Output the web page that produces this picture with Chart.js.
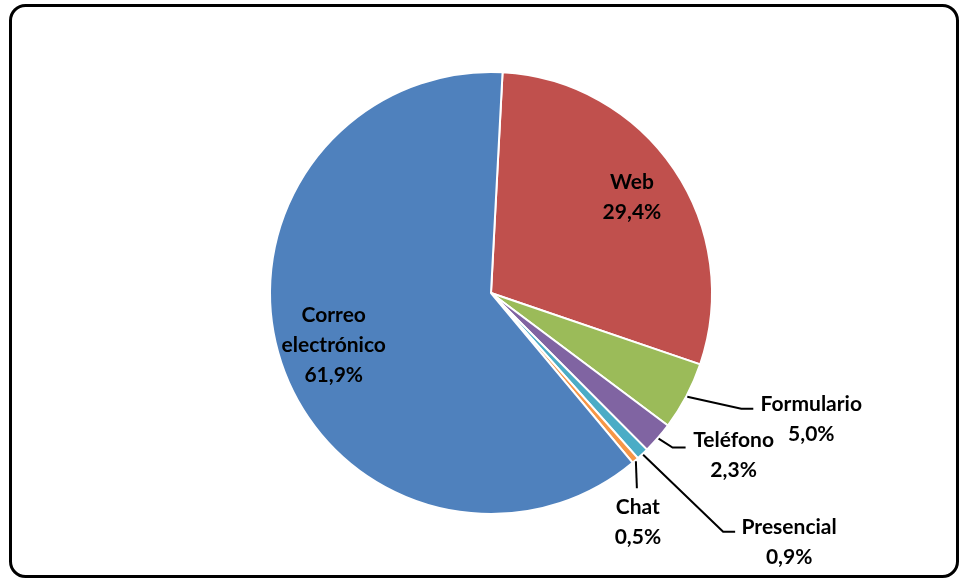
<!DOCTYPE html>
<html>
<head>
<meta charset="utf-8">
<script src="https://cdn.jsdelivr.net/npm/chart.js@4.4.1/dist/chart.umd.min.js"></script>
<style>
  html, body { margin: 0; padding: 0; background: #ffffff; }
  #wrap { width: 960px; height: 580px; position: relative; }
</style>
</head>
<body>
<div id="wrap"><canvas id="c" width="960" height="580"></canvas></div>
<script>
const categories = ["Web", "Formulario", "Teléfono", "Presencial", "Chat", "Correo electrónico"];
const labelLines = [["Web"], ["Formulario"], ["Teléfono"], ["Presencial"], ["Chat"], ["Correo", "electrónico"]];
const values = [29.4, 5.0, 2.3, 0.9, 0.5, 61.9];
const valueLabels = ["29,4%", "5,0%", "2,3%", "0,9%", "0,5%", "61,9%"];
const colors = ["#C0504D", "#9BBB59", "#8064A2", "#4BACC6", "#F79646", "#4F81BD"];

const FONT = "bold 21px Lato, 'Liberation Sans', sans-serif";
const LINE_H = 30;

// label placement: inside (fraction of radius) or outside (offsets from arc edge anchor)
const placement = [
  { inside: true, r: 0.77 },
  { elbow: [54, 12], end: [66, 12], text: [124, 8] },
  { elbow: [14, 9], end: [27, 9], text: [75, 2] },
  { elbow: [80, 77], end: [92, 77], text: [146, 73] },
  { elbow: [1, 27], end: [1, 27], text: [2, 46] },
  { inside: true, r: 0.75 }
];

const framePlugin = {
  id: 'frame',
  beforeDraw(chart) {
    const ctx = chart.ctx;
    ctx.save();
    ctx.fillStyle = '#ffffff';
    ctx.fillRect(0, 0, chart.width, chart.height);
    ctx.beginPath();
    ctx.roundRect(10.5, 5.5, 947, 571, 15);
    ctx.lineWidth = 3;
    ctx.strokeStyle = '#000000';
    ctx.stroke();
    ctx.restore();
  }
};

const labelPlugin = {
  id: 'pieLabels',
  afterDatasetsDraw(chart) {
    const ctx = chart.ctx;
    const meta = chart.getDatasetMeta(0);
    ctx.save();
    ctx.font = FONT;
    ctx.fillStyle = '#000000';
    ctx.textAlign = 'center';
    ctx.textBaseline = 'middle';
    meta.data.forEach((arc, i) => {
      const p = arc.getProps(['x', 'y', 'startAngle', 'endAngle', 'outerRadius'], true);
      const mid = (p.startAngle + p.endAngle) / 2;
      const lines = labelLines[i].concat([valueLabels[i]]);
      const pl = placement[i];
      if (pl.inside) {
        const rr = p.outerRadius * pl.r;
        const cx = p.x + Math.cos(mid) * rr;
        const cy = p.y + Math.sin(mid) * rr;
        const top = cy - (lines.length - 1) * LINE_H / 2;
        lines.forEach((t, k) => ctx.fillText(t, cx, top + k * LINE_H));
      } else {
        const ax = p.x + Math.cos(mid) * (p.outerRadius + 1);
        const ay = p.y + Math.sin(mid) * (p.outerRadius + 1);
        ctx.beginPath();
        ctx.moveTo(ax, ay);
        ctx.lineTo(ax + pl.elbow[0], ay + pl.elbow[1]);
        ctx.lineTo(ax + pl.end[0], ay + pl.end[1]);
        ctx.lineWidth = 2;
        ctx.strokeStyle = '#000000';
        ctx.stroke();
        const cx = ax + pl.text[0];
        const cy = ay + pl.text[1];
        lines.forEach((t, k) => ctx.fillText(t, cx, cy + k * LINE_H));
      }
    });
    ctx.restore();
  }
};

new Chart(document.getElementById('c'), {
  type: 'pie',
  data: {
    labels: categories,
    datasets: [{
      data: values,
      backgroundColor: colors,
      borderColor: '#ffffff',
      borderWidth: 2
    }]
  },
  options: {
    responsive: false,
    animation: false,
    rotation: 3,
    layout: { padding: { top: 71, bottom: 65, left: 22, right: 0 } },
    plugins: {
      legend: { display: false },
      tooltip: { enabled: false }
    }
  },
  plugins: [framePlugin, labelPlugin]
});
</script>
</body>
</html>
